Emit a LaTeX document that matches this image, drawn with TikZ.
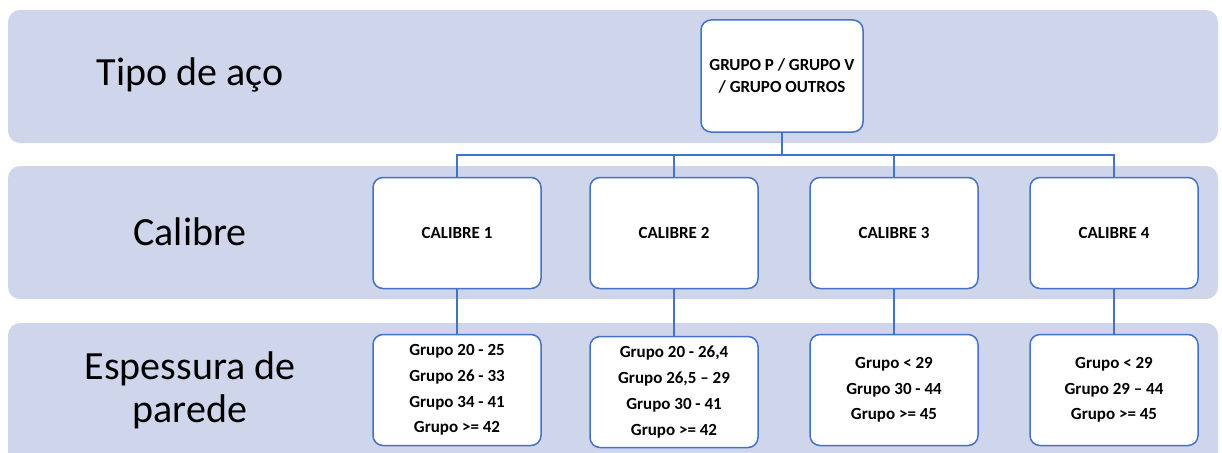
\documentclass[tikz,border=0pt]{standalone}
\usepackage{fontspec}
\setmainfont{Carlito}
\definecolor{bandfill}{RGB}{207,213,234}
\definecolor{boxline}{RGB}{68,114,196}
\tikzset{>=stealth,
  band/.style={fill=bandfill, draw=none, rounded corners=12pt},
  rowlabel/.style={align=center, font=\fontsize{40}{43}\selectfont},
  card/.style={draw=boxline, line width=1.5pt, fill=white, rounded corners=10pt,
    minimum width=168pt, minimum height=111pt, align=center,
    font=\bfseries\fontsize{17}{22}\selectfont},
  gcard/.style={card, font=\bfseries\fontsize{17}{25.7}\selectfont},
  link/.style={draw=boxline, line width=2pt}}

\begin{document}
\begin{tikzpicture}[x=1pt, y=-1pt]
\useasboundingbox (0,0) rectangle (1222,452);
\clip (0,0) rectangle (1222,452);
% bands
\fill[band] (8,10) rectangle (1218,143);
\fill[band] (8,166) rectangle (1218,299);
\fill[band] (8,323) rectangle (1218,470);
% row labels
\node[rowlabel] (ltipo) at (190,75) {Tipo de aço};
\node[rowlabel] (lcal) at (190,232) {Calibre};
\node[rowlabel] (lesp) at (190,390) {Espessura de\\parede};
% top box
\node[card, minimum width=162pt, minimum height=112pt] (top) at (782,76) {GRUPO P / GRUPO V\\/ GRUPO OUTROS};
% calibres
\node[card] (c1) at (457,233) {CALIBRE 1};
\node[card] (c2) at (674,233) {CALIBRE 2};
\node[card] (c3) at (894,233) {CALIBRE 3};
\node[card] (c4) at (1114,233) {CALIBRE 4};
% grupos
\node[gcard] (g1) at (457,390) {Grupo 20 - 25\\Grupo 26 - 33\\Grupo 34 - 41\\Grupo >= 42};
\node[gcard] (g2) at (674,392) {Grupo 20 - 26,4\\Grupo 26,5 -- 29\\Grupo 30 - 41\\Grupo >= 42};
\node[gcard] (g3) at (894,390) {Grupo < 29\\Grupo 30 - 44\\Grupo >= 45};
\node[gcard] (g4) at (1114,390) {Grupo < 29\\Grupo 29 -- 44\\Grupo >= 45};
% connectors
\coordinate (bus) at (782,155);
\draw[link] (top.south) -- (bus);
\foreach \i in {1,...,4}
\draw[link] (bus) -| (c\i.north);
\foreach \i in {1,...,4}
\draw[link] (c\i.south) -- (g\i.north);
\end{tikzpicture}
\end{document}
